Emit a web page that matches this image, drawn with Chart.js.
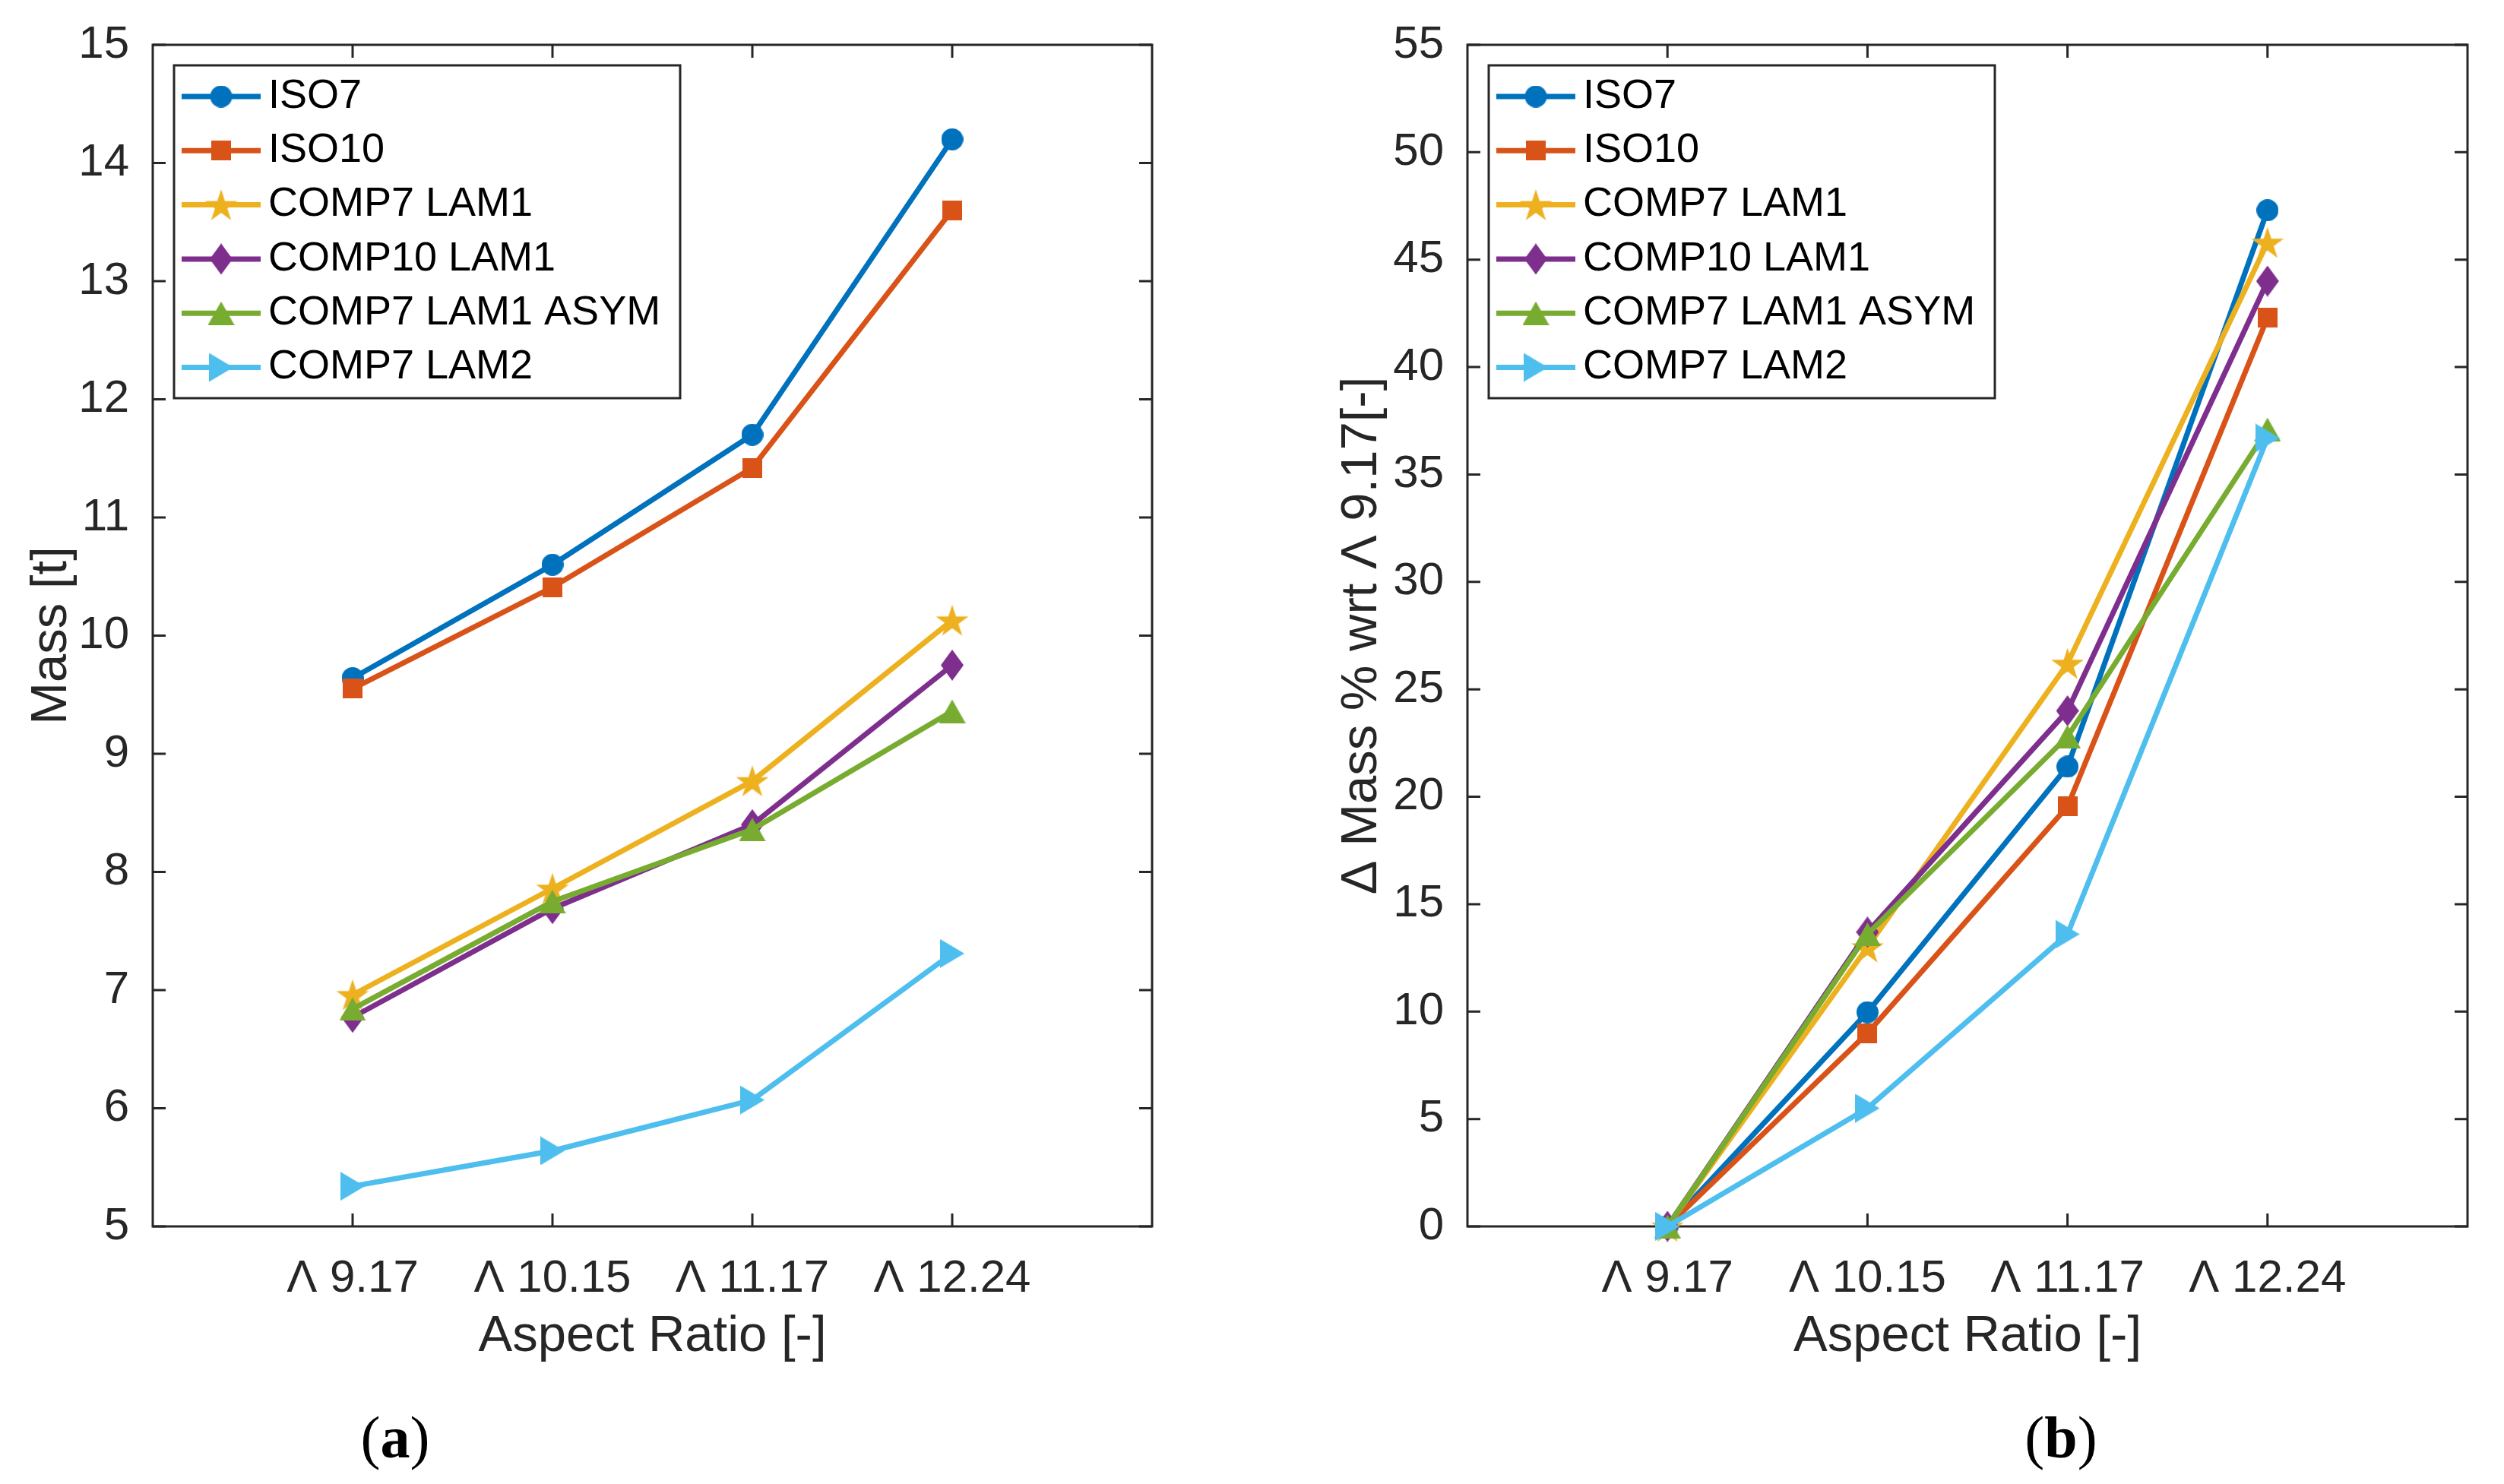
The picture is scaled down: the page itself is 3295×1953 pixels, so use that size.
<!DOCTYPE html>
<html>
<head>
<meta charset="utf-8">
<script src="https://cdn.jsdelivr.net/npm/chart.js@4.4.0/dist/chart.umd.min.js"></script>
<style>
  html, body { margin: 0; padding: 0; background: #fff; }
  body { width: 3295px; height: 1953px; position: relative; overflow: hidden; }
  canvas { position: absolute; top: 0; }
  #massChart { left: 0; }
  #deltaChart { left: 1650px; }
  .panel {
    position: absolute; top: 1847px; line-height: 78px;
    font: 78px "Liberation Serif", "Times New Roman", serif;
    color: #000; transform: translateX(-50%);
  }
  .panel b { font-weight: bold; }
</style>
</head>
<body>
<canvas id="massChart" width="1650" height="1953"></canvas>
<canvas id="deltaChart" width="1645" height="1953"></canvas>
<div class="panel" style="left:520px">(<b>a</b>)</div>
<div class="panel" style="left:2712px">(<b>b</b>)</div>
<script>
// categories
const aspectLabels = ['Λ 9.17', 'Λ 10.15', 'Λ 11.17', 'Λ 12.24'];
const xPositions = [1, 2, 3, 4];
const seriesNames = ['ISO7', 'ISO10', 'COMP7 LAM1', 'COMP10 LAM1', 'COMP7 LAM1 ASYM', 'COMP7 LAM2'];
const seriesColors = ['#0072BD', '#D95319', '#EDB120', '#7E2F8E', '#77AC30', '#4DBEEE'];
const seriesMarkers = ['circle', 'square', 'star', 'diamond', 'triUp', 'triRight'];

// (a) mass [t]
const massIso7 = [9.64, 10.60, 11.70, 14.20];
const massIso10 = [9.55, 10.41, 11.42, 13.60];
const massComp7Lam1 = [6.96, 7.86, 8.77, 10.13];
const massComp10Lam1 = [6.77, 7.69, 8.40, 9.75];
const massComp7Lam1Asym = [6.84, 7.75, 8.36, 9.36];
const massComp7Lam2 = [5.34, 5.64, 6.07, 7.31];

// (b) delta mass % wrt aspect ratio 9.17
const deltaIso7 = [0, 9.97, 21.4, 47.3];
const deltaIso10 = [0, 9.0, 19.55, 42.3];
const deltaComp7Lam1 = [0, 13.0, 26.2, 45.8];
const deltaComp10Lam1 = [0, 13.7, 24.0, 44.0];
const deltaComp7Lam1Asym = [0, 13.6, 22.8, 37.1];
const deltaComp7Lam2 = [0, 5.5, 13.6, 36.7];

const massSeries = [massIso7, massIso10, massComp7Lam1, massComp10Lam1, massComp7Lam1Asym, massComp7Lam2];
const deltaSeries = [deltaIso7, deltaIso10, deltaComp7Lam1, deltaComp10Lam1, deltaComp7Lam1Asym, deltaComp7Lam2];

const AXIS_COLOR = '#262626';
const SANS = '"Liberation Sans", Arial, sans-serif';
const LINE_W = 7;
Chart.defaults.font.family = SANS;
Chart.defaults.color = AXIS_COLOR;

// matlab-like marker images
function makeMarker(shape, color) {
  const sizes = {
    circle: [29, 29], square: [26, 26], star: [45, 43],
    diamond: [30, 41], triUp: [35, 31], triRight: [32, 38]
  };
  const [w, h] = sizes[shape];
  const c = document.createElement('canvas');
  c.width = w; c.height = h;
  const g = c.getContext('2d');
  g.fillStyle = color;
  g.beginPath();
  if (shape === 'circle') {
    g.arc(w / 2, h / 2, w / 2, 0, Math.PI * 2);
  } else if (shape === 'square') {
    g.rect(0, 0, w, h);
  } else if (shape === 'star') {
    const R = 22.5, r = R * 0.382, cx = w / 2, cy = R + 1;
    for (let k = 0; k < 10; k++) {
      const rad = k % 2 === 0 ? R : r;
      const a = -Math.PI / 2 + k * Math.PI / 5;
      const px = cx + rad * Math.cos(a), py = cy + rad * Math.sin(a);
      if (k === 0) g.moveTo(px, py); else g.lineTo(px, py);
    }
  } else if (shape === 'diamond') {
    g.moveTo(w / 2, 0); g.lineTo(w, h / 2); g.lineTo(w / 2, h); g.lineTo(0, h / 2);
  } else if (shape === 'triUp') {
    g.moveTo(w / 2, 0); g.lineTo(w, h); g.lineTo(0, h);
  } else if (shape === 'triRight') {
    g.moveTo(0, 0); g.lineTo(w, h / 2); g.lineTo(0, h);
  }
  g.closePath();
  g.fill();
  return c;
}

// box with inward ticks, like a matlab axes
const matlabBox = {
  id: 'matlabBox',
  beforeDatasetsDraw(chart) {
    const { ctx, chartArea: a, scales } = chart;
    const tl = 17;
    ctx.save();
    ctx.strokeStyle = AXIS_COLOR;
    ctx.lineWidth = 3;
    ctx.beginPath();
    scales.x.ticks.forEach(t => {
      const px = scales.x.getPixelForValue(t.value);
      ctx.moveTo(px, a.bottom); ctx.lineTo(px, a.bottom - tl);
      ctx.moveTo(px, a.top); ctx.lineTo(px, a.top + tl);
    });
    scales.y.ticks.forEach(t => {
      const py = scales.y.getPixelForValue(t.value);
      ctx.moveTo(a.left, py); ctx.lineTo(a.left + tl, py);
      ctx.moveTo(a.right, py); ctx.lineTo(a.right - tl, py);
    });
    ctx.stroke();
    ctx.strokeRect(a.left, a.top, a.right - a.left, a.bottom - a.top);
    ctx.restore();
  }
};

const boxLegend = {
  id: 'boxLegend',
  afterDraw(chart) {
    const { ctx, chartArea } = chart;
    const x0 = chartArea.left + 28, y0 = chartArea.top + 27;
    const w = 666, h = 438;
    ctx.save();
    ctx.fillStyle = '#fff';
    ctx.fillRect(x0, y0, w, h);
    ctx.strokeStyle = AXIS_COLOR;
    ctx.lineWidth = 3;
    ctx.strokeRect(x0, y0, w, h);
    ctx.font = '54px ' + SANS;
    ctx.textBaseline = 'middle';
    chart.data.datasets.forEach((ds, i) => {
      const cy = y0 + 41 + i * 71.3;
      ctx.strokeStyle = ds.borderColor;
      ctx.lineWidth = LINE_W;
      ctx.beginPath();
      ctx.moveTo(x0 + 10, cy);
      ctx.lineTo(x0 + 114, cy);
      ctx.stroke();
      const m = ds.pointStyle;
      ctx.drawImage(m, x0 + 62 - m.width / 2, cy - m.height / 2);
      ctx.fillStyle = '#000';
      ctx.fillText(ds.label, x0 + 124, cy);
    });
    ctx.restore();
  }
};

function buildChart(canvasId, series, yMin, yMax, yStep, yTitle, pad, yWidth) {
  const datasets = seriesNames.map((name, i) => ({
    label: name,
    data: xPositions.map((x, j) => ({ x: x, y: series[i][j] })),
    borderColor: seriesColors[i],
    backgroundColor: seriesColors[i],
    borderWidth: LINE_W,
    pointStyle: makeMarker(seriesMarkers[i], seriesColors[i]),
    pointRadius: 14,
    pointHoverRadius: 14,
    pointBorderWidth: 0,
    tension: 0,
    fill: false,
    clip: false,
    order: seriesNames.length - i
  }));

  return new Chart(document.getElementById(canvasId), {
    type: 'line',
    data: { datasets: datasets },
    options: {
      responsive: false,
      animation: false,
      devicePixelRatio: 1,
      events: [],
      layout: { padding: pad },
      plugins: { legend: { display: false }, tooltip: { enabled: false } },
      scales: {
        x: {
          type: 'linear',
          min: 0,
          max: 5,
          grid: { display: false },
          border: { display: false },
          afterBuildTicks: (scale) => { scale.ticks = xPositions.map(v => ({ value: v })); },
          afterFit: (scale) => { scale.height = 186; },
          ticks: {
            padding: 25,
            color: AXIS_COLOR,
            font: { size: 60 },
            maxRotation: 0,
            callback: (value) => aspectLabels[xPositions.indexOf(value)]
          },
          title: {
            display: true,
            text: 'Aspect Ratio [-]',
            color: AXIS_COLOR,
            font: { size: 67 },
            padding: 0
          }
        },
        y: {
          min: yMin,
          max: yMax,
          grid: { display: false },
          border: { display: false },
          afterFit: (scale) => { scale.width = yWidth; },
          ticks: {
            stepSize: yStep,
            padding: 23,
            color: AXIS_COLOR,
            font: { size: 60 }
          },
          title: {
            display: true,
            text: yTitle,
            color: AXIS_COLOR,
            font: { size: 67 },
            padding: 0
          }
        }
      }
    },
    plugins: [matlabBox, boxLegend]
  });
}

buildChart('massChart', massSeries, 5, 15, 1, 'Mass [t]',
  { left: 28, right: 134, top: 55, bottom: 153 }, 173);
buildChart('deltaChart', deltaSeries, 0, 55, 5, 'Δ Mass % wrt Λ 9.17[-]',
  { left: 102, right: 48, top: 55, bottom: 153 }, 179);
</script>
</body>
</html>
